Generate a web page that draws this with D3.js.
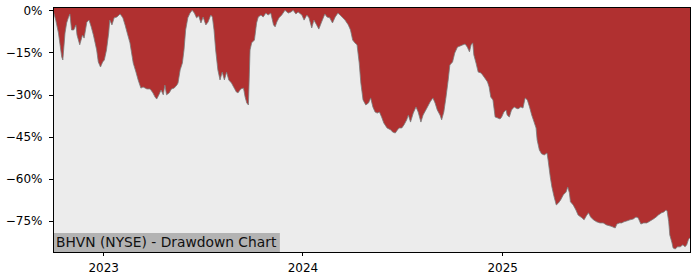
<!DOCTYPE html>
<html>
<head>
<meta charset="utf-8">
<script src="https://cdn.jsdelivr.net/npm/d3@7"></script>
<style>
	body { margin: 0; background: #fff; }
	svg text { font-family: "DejaVu Sans", sans-serif; }
</style>
</head>
<body>
<div id="chart"></div>
<script>
var dates = [
	'2022-10-01','2022-10-06','2022-10-11','2022-10-17','2022-10-19','2022-10-23','2022-10-26','2022-10-29',
	'2022-11-01','2022-11-04','2022-11-08','2022-11-12','2022-11-14','2022-11-19','2022-11-24','2022-11-27',
	'2022-12-02','2022-12-06','2022-12-10','2022-12-14','2022-12-20','2022-12-23','2022-12-27','2022-12-31',
	'2023-01-03','2023-01-07','2023-01-11','2023-01-13','2023-01-17','2023-01-21','2023-01-26',
	'2023-02-01','2023-02-06','2023-02-10','2023-02-14','2023-02-19','2023-02-22','2023-02-25',
	'2023-03-02','2023-03-06','2023-03-11','2023-03-15','2023-03-22','2023-03-28',
	'2023-04-02','2023-04-06','2023-04-09','2023-04-13','2023-04-17','2023-04-21','2023-04-24','2023-04-27',
	'2023-05-02','2023-05-06','2023-05-11','2023-05-16','2023-05-18','2023-05-22','2023-05-26','2023-05-29',
	'2023-06-01','2023-06-05','2023-06-09','2023-06-13','2023-06-17','2023-06-21','2023-06-25','2023-06-29',
	'2023-07-03','2023-07-08','2023-07-12','2023-07-17','2023-07-20','2023-07-23','2023-07-26','2023-07-30',
	'2023-08-03','2023-08-07','2023-08-11','2023-08-15','2023-08-19','2023-08-24','2023-08-29',
	'2023-09-02','2023-09-05','2023-09-10','2023-09-15','2023-09-18','2023-09-21','2023-09-24','2023-09-27','2023-09-30',
	'2023-10-05','2023-10-09','2023-10-12','2023-10-17','2023-10-21','2023-10-26','2023-10-30',
	'2023-11-04','2023-11-09','2023-11-12','2023-11-15','2023-11-19','2023-11-24','2023-11-30',
	'2023-12-06','2023-12-11','2023-12-15','2023-12-20','2023-12-24','2023-12-31',
	'2024-01-04','2024-01-09','2024-01-13','2024-01-18','2024-01-22','2024-01-27','2024-01-31',
	'2024-02-05','2024-02-11','2024-02-15','2024-02-20','2024-02-25',
	'2024-03-01','2024-03-06','2024-03-10','2024-03-15','2024-03-19','2024-03-25','2024-03-29',
	'2024-04-02','2024-04-06','2024-04-10','2024-04-14','2024-04-17','2024-04-21','2024-04-26',
	'2024-05-01','2024-05-05','2024-05-09','2024-05-13','2024-05-17','2024-05-21','2024-05-25','2024-05-29',
	'2024-06-04','2024-06-11','2024-06-14','2024-06-19','2024-06-23','2024-06-26',
	'2024-07-01','2024-07-05','2024-07-10','2024-07-13','2024-07-17','2024-07-22','2024-07-27','2024-07-31',
	'2024-08-05','2024-08-09','2024-08-16','2024-08-22','2024-08-27','2024-08-31',
	'2024-09-04','2024-09-09','2024-09-12','2024-09-16','2024-09-20','2024-09-24','2024-09-27',
	'2024-10-02','2024-10-06','2024-10-11','2024-10-16','2024-10-21','2024-10-25','2024-10-29',
	'2024-11-02','2024-11-05','2024-11-08','2024-11-10','2024-11-14','2024-11-18','2024-11-23','2024-11-26','2024-11-30',
	'2024-12-05','2024-12-08','2024-12-11','2024-12-15','2024-12-19','2024-12-23','2024-12-28','2024-12-31',
	'2025-01-04','2025-01-08','2025-01-10','2025-01-14','2025-01-18','2025-01-23','2025-01-26','2025-01-30',
	'2025-02-04','2025-02-08','2025-02-12','2025-02-16','2025-02-20','2025-02-24','2025-02-27',
	'2025-03-04','2025-03-06','2025-03-10','2025-03-14','2025-03-19','2025-03-24','2025-03-26','2025-03-30',
	'2025-04-02','2025-04-06','2025-04-10','2025-04-14','2025-04-18','2025-04-23','2025-04-28',
	'2025-05-01','2025-05-04','2025-05-06','2025-05-11','2025-05-16','2025-05-20','2025-05-27','2025-05-31',
	'2025-06-04','2025-06-08','2025-06-12','2025-06-17','2025-06-23','2025-06-29',
	'2025-07-05','2025-07-11','2025-07-18','2025-07-22','2025-07-27','2025-07-30',
	'2025-08-04','2025-08-08','2025-08-12','2025-08-17','2025-08-23','2025-08-29',
	'2025-09-03','2025-09-07','2025-09-12','2025-09-17','2025-09-23','2025-09-29',
	'2025-10-05','2025-10-10','2025-10-14','2025-10-20','2025-10-24','2025-10-28','2025-10-30',
	'2025-11-02','2025-11-04','2025-11-08','2025-11-10','2025-11-14','2025-11-18','2025-11-23','2025-11-28',
	'2025-12-02','2025-12-05','2025-12-08','2025-12-10','2025-12-11'
];

// drawdown in percent
var drawdown = [
	0,-3.5,-8.1,-16.6,-17.7,-8.1,-4.5,-2.7,
	-1.3,-7.0,-7.0,-5.2,-8.8,-12.3,-8.8,-9.9,
	-4.2,-3.5,-5.9,-8.8,-14.1,-18.4,-20.2,-18.4,
	-17.7,-14.1,-8.1,-3.5,-5.2,-2.7,-2.4,
	-1.3,-2.7,-5.2,-8.1,-11.6,-15.2,-18.8,
	-22.0,-24.8,-27.7,-27.3,-28.0,-28.0,
	-29.4,-30.9,-31.6,-30.1,-28.4,-30.1,-26.6,-30.1,
	-29.4,-28.0,-27.7,-26.6,-25.9,-21.2,-18.8,-14.1,
	-7.0,-2.7,-1.0,0,-1.0,-2.7,-2.0,-4.5,
	-2.4,-5.2,-4.2,-1.7,-2.4,-7.0,-14.1,-21.2,
	-24.8,-22.0,-24.8,-22.0,-24.8,-25.9,-27.7,
	-29.1,-29.4,-28.0,-27.7,-30.9,-33.0,-33.7,-14.1,-11.6,
	-10.6,-4.5,-2.4,-1.7,-2.4,-1.0,-1.7,
	-1.0,-5.2,-5.9,-4.2,-2.7,-1.7,0,
	-1.0,-0.6,0,-1.3,-0.6,-1.7,
	-3.5,-1.7,-2.7,-6.3,-3.5,-5.2,-6.7,
	-4.2,-1.3,-2.4,-2.7,-4.5,
	-2.4,-1.0,-1.7,-2.7,-3.5,-5.2,-7.0,
	-10.6,-11.6,-12.3,-18.8,-25.9,-31.9,-33.7,
	-33.0,-31.2,-34.4,-36.2,-36.6,-36.2,-38.0,-40.1,
	-41.9,-42.6,-43.3,-43.7,-42.6,-41.9,
	-41.9,-40.8,-39.0,-37.3,-39.8,-36.6,-34.4,-36.2,
	-39.8,-37.3,-34.8,-32.6,-31.2,-33.0,
	-35.5,-37.3,-39.0,-36.2,-30.9,-24.8,-19.5,
	-18.4,-15.2,-13.1,-12.7,-12.3,-12.0,-13.1,
	-14.8,-12.3,-11.6,-15.9,-18.8,-22.0,-22.3,-23.0,-24.1,
	-25.5,-27.3,-30.9,-31.9,-38.0,-38.3,-38.7,-38.0,
	-36.2,-35.5,-37.3,-38.0,-35.5,-34.4,-34.8,-35.1,
	-34.4,-34.8,-31.2,-31.9,-34.4,-37.3,-39.0,
	-41.9,-46.2,-49.7,-51.1,-51.5,-50.8,-53.3,-59.3,
	-62.9,-66.4,-69.3,-68.6,-67.5,-65.7,-64.7,
	-62.9,-65.0,-68.2,-69.3,-71.1,-72.9,-73.9,-74.6,
	-73.2,-72.1,-73.6,-74.6,-75.3,-75.7,
	-75.7,-76.4,-76.8,-77.1,-77.5,-76.1,
	-75.7,-75.7,-75.3,-75.0,-74.6,-74.3,
	-73.6,-73.9,-76.1,-75.7,-75.7,-75.0,
	-74.3,-73.6,-72.9,-72.1,-71.8,-71.1,-71.4,
	-75.3,-80.0,-82.8,-84.6,-85.0,-84.2,-84.2,-83.5,
	-84.2,-83.5,-81.7,-81.1,-81.1
];

var yTicks = [0, -15, -30, -45, -60, -75];
var xTicks = ['2023-01-01', '2024-01-01', '2025-01-01'];
var yMin = -86.05, yMax = 1.17;
var chartTitle = 'BHVN (NYSE) - Drawdown Chart';

var cfg = {
	w: 700,
	h: 280,
	mTop: 7,
	mRight: 10,
	mBottom: 28,
	mLeft: 53,
	red: '#b03030',
	bg: '#ececec'
};
var width = cfg.w - cfg.mLeft - cfg.mRight,
	height = cfg.h - cfg.mTop - cfg.mBottom;

var parse = d3.timeParse('%Y-%m-%d');
var data = dates.map(function(d, i) { return { date: parse(d), value: drawdown[i] }; });

var x = d3.scaleTime()
	.domain(d3.extent(data, function(d) { return d.date; }))
	.range([0, width]);
var y = d3.scaleLinear()
	.domain([yMin, yMax])
	.range([height, 0]);

var svg = d3.select('#chart').append('svg')
	.attr('width', cfg.w)
	.attr('height', cfg.h)
	.append('g')
	.attr('transform', 'translate(' + cfg.mLeft + ',' + cfg.mTop + ')');

// red background = drawdown region
svg.append('rect')
	.attr('width', width)
	.attr('height', height)
	.attr('fill', cfg.red);

var area = d3.area()
	.x(function(d) { return x(d.date); })
	.y0(height)
	.y1(function(d) { return y(d.value); });
svg.append('path')
	.datum(data)
	.attr('d', area)
	.attr('fill', cfg.bg);

var line = d3.line()
	.x(function(d) { return x(d.date); })
	.y(function(d) { return y(d.value); });
svg.append('path')
	.datum(data)
	.attr('d', line)
	.attr('fill', 'none')
	.attr('stroke', '#7a7a7a')
	.attr('stroke-width', 0.8);

// label box
var label = svg.append('g');
var labelText = label.append('text')
	.text(chartTitle)
	.attr('x', 3)
	.attr('y', height - 4.8)
	.style('font-size', '13.8px')
	.style('fill', '#111');
var bb = labelText.node().getBBox();
label.insert('rect', 'text')
	.attr('x', 0)
	.attr('y', height - 19)
	.attr('width', bb.width + 6)
	.attr('height', 19)
	.attr('fill', '#b3b3b3');

// axes
var yAxis = d3.axisLeft(y)
	.tickValues(yTicks)
	.tickSize(4)
	.tickPadding(6.5)
	.tickFormat(function(d) { return (d < 0 ? '\u2212' + (-d) : d) + '%'; });
var xAxis = d3.axisBottom(x)
	.tickValues(xTicks.map(parse))
	.tickSize(4)
	.tickPadding(7)
	.tickFormat(d3.timeFormat('%Y'));

function styleAxis(g) {
	g.select('.domain').remove();
	g.selectAll('.tick text').style('font-size', '12px').style('font-family', '"DejaVu Sans", sans-serif').attr('fill', '#000');
	g.selectAll('.tick line').attr('stroke', '#000').attr('shape-rendering', 'crispEdges');
}

svg.append('g')
	.call(yAxis)
	.call(styleAxis);

svg.append('g')
	.attr('transform', 'translate(0,' + height + ')')
	.call(xAxis)
	.call(styleAxis);

// frame
svg.append('rect')
	.attr('width', width)
	.attr('height', height)
	.attr('fill', 'none')
	.attr('stroke', '#000')
	.attr('stroke-width', 1)
	.attr('shape-rendering', 'crispEdges');
</script>
</body>
</html>
